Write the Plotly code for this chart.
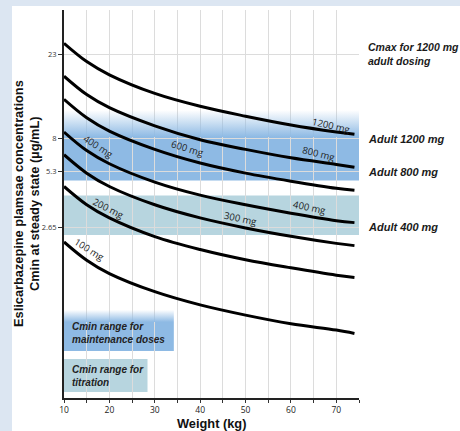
import math
import plotly.graph_objects as go

# ---------------- data ----------------
weights = [10, 15, 20, 30, 40, 50, 60, 70, 74]
dose_1200 = [26.4, 21.0, 17.8, 14.1, 12.0, 10.6, 9.5, 8.7, 8.45]
dose_800 = [17.5, 13.9, 11.8, 9.4, 7.9, 7.0, 6.3, 5.8, 5.6]
dose_600 = [13.1, 10.4, 8.8, 7.0, 5.9, 5.2, 4.7, 4.3, 4.2]
dose_400 = [8.7, 6.9, 5.85, 4.65, 3.95, 3.5, 3.15, 2.87, 2.8]
dose_300 = [6.55, 5.2, 4.4, 3.5, 2.97, 2.62, 2.36, 2.16, 2.1]
dose_200 = [4.4, 3.5, 2.97, 2.35, 2.0, 1.76, 1.59, 1.45, 1.41]
dose_100 = [2.2, 1.75, 1.48, 1.18, 1.0, 0.88, 0.79, 0.73, 0.70]

y_tick_vals = [23, 8, 5.3, 2.65]
y_tick_text = ["23", "8", "5.3", "2.65"]
x_tick_vals = [10, 20, 30, 40, 50, 60, 70]

maintenance_range = [4.74, 8.17]      # Cmin range for maintenance doses (solid part)
maintenance_fade_top = 11.45
titration_range = [2.4, 3.93]         # Cmin range for titration

right_labels = ["Cmax for 1200 mg<br>adult dosing", "Adult 1200 mg", "Adult 800 mg", "Adult 400 mg"]
right_label_sizes = [10.5, 11, 11, 11]

curve_labels = [
    ("1200 mg", 68.8, 9.48, 13),
    ("800 mg", 66.0, 6.61, 14),
    ("600 mg", 37.3, 7.11, 17),
    ("400 mg", 17.6, 7.30, 33),
    ("400 mg", 64.2, 3.40, 12),
    ("300 mg", 48.8, 2.96, 12),
    ("200 mg", 19.8, 3.36, 27),
    ("100 mg", 15.6, 2.01, 32),
]

BLUE = "rgb(142,186,228)"
BLUE0 = "rgba(142,186,228,0)"
TEAL = "rgb(183,213,223)"
BG = "rgb(220,230,242)"

fig = go.Figure()

def fade_trace(x0, x1, ylo, yhi):
    fig.add_trace(go.Scatter(x=[x0, x1, x1, x0, x0], y=[ylo, ylo, yhi, yhi, ylo],
                             mode="lines", line=dict(width=0), fill="toself",
                             fillgradient=dict(type="vertical",
                                               colorscale=[[0, BLUE], [1, BLUE0]]),
                             hoverinfo="skip", showlegend=False))

fade_trace(10, 75, maintenance_range[1], maintenance_fade_top)
fade_trace(10, 34.2, 0.807, 0.94)

for series in [dose_1200, dose_800, dose_600, dose_400, dose_300, dose_200, dose_100]:
    fig.add_trace(go.Scatter(x=weights, y=series, mode="lines",
                             line=dict(color="black", width=3, shape="spline"),
                             hoverinfo="skip", showlegend=False))

shapes = []
# white panel
shapes.append(dict(type="rect", xref="paper", yref="paper", x0=-0.1763, x1=1.5,
                   y0=-0.2, y1=1.0103, fillcolor="white", line=dict(width=0), layer="below"))

def band(x0, x1, y0, y1, color):
    shapes.append(dict(type="rect", xref="x", yref="y", x0=x0, x1=x1, y0=y0, y1=y1,
                       fillcolor=color, line=dict(width=0), layer="below"))

band(10, 75, maintenance_range[0], maintenance_range[1], BLUE)
band(10, 75, titration_range[0], titration_range[1], TEAL)
band(10, 34.2, 0.561, 0.808, BLUE)
band(10, 28.4, 0.336, 0.508, TEAL)

annotations = []
for text, kg, val, ang in curve_labels:
    annotations.append(dict(x=kg, y=math.log10(val), xref="x", yref="y", text=text,
                            textangle=ang, showarrow=False,
                            font=dict(family="Open Sans", size=9.5, color="#222")))

for text, yv, fs in zip(right_labels, y_tick_vals, right_label_sizes):
    annotations.append(dict(x=1.025, y=math.log10(yv), xref="paper", yref="y",
                            text="<b><i>" + text + "</i></b>", showarrow=False,
                            xanchor="left", yanchor="middle", align="left",
                            font=dict(family="Liberation Sans", size=fs, color="#1a1a1a")))

annotations.append(dict(x=0.02, y=0.1675, xref="paper", yref="paper",
                        text="<b><i>Cmin range for<br>maintenance doses</i></b>",
                        showarrow=False, xanchor="left", yanchor="middle", align="left",
                        font=dict(family="Liberation Sans", size=10, color="#222")))
annotations.append(dict(x=0.02, y=0.0567, xref="paper", yref="paper",
                        text="<b><i>Cmin range for<br>titration</i></b>",
                        showarrow=False, xanchor="left", yanchor="middle", align="left",
                        font=dict(family="Liberation Sans", size=10, color="#222")))

# axis titles
annotations.append(dict(x=(18 - 64) / 295, y=0.5, xref="paper", yref="paper",
                        text="<b>Eslicarbazepine plamsae concentrations</b>", textangle=-90,
                        showarrow=False, xanchor="center", yanchor="middle",
                        font=dict(family="Liberation Sans", size=12.8, color="#111")))
annotations.append(dict(x=(34 - 64) / 295, y=0.5, xref="paper", yref="paper",
                        text="<b>Cmin at steady state (µg/mL)</b>", textangle=-90,
                        showarrow=False, xanchor="center", yanchor="middle",
                        font=dict(family="Liberation Sans", size=12.8, color="#111")))
annotations.append(dict(x=0.5, y=(398 - 423) / 388, xref="paper", yref="paper",
                        text="<b>Weight (kg)</b>", showarrow=False,
                        xanchor="center", yanchor="middle",
                        font=dict(family="Liberation Sans", size=12.8, color="#111")))

fig.update_layout(
    width=460, height=431,
    margin=dict(l=64, r=101, t=10, b=33),
    paper_bgcolor=BG, plot_bgcolor="white",
    shapes=shapes, annotations=annotations, showlegend=False,
    xaxis=dict(range=[10, 75], tickmode="array", tickvals=x_tick_vals,
               showgrid=True, gridcolor="#dcdcdc", gridwidth=1,
               ticks="outside", ticklen=3, tickcolor="#333",
               showline=True, linecolor="#222", linewidth=2,
               tickfont=dict(family="Open Sans", size=8.5, color="#222"),
               minor=dict(dtick=5, tick0=10, showgrid=True, gridcolor="#dcdcdc",
                          ticks="outside", ticklen=3, tickcolor="#333"),
               zeroline=False, fixedrange=True),
    yaxis=dict(type="log", range=[math.log10(0.312), math.log10(40.05)],
               tickmode="array", tickvals=y_tick_vals, ticktext=y_tick_text,
               showgrid=True, gridcolor="#dcdcdc", gridwidth=1,
               ticks="outside", ticklen=4, tickcolor="#333",
               showline=True, linecolor="#222", linewidth=2,
               tickfont=dict(family="Open Sans", size=7.5, color="#333"),
               zeroline=False, fixedrange=True),
)

fig.write_html("out.html", config=dict(displayModeBar=False),
               post_script="document.body.style.margin='0';document.body.style.padding='0';"
                           "document.body.style.overflow='hidden';")
